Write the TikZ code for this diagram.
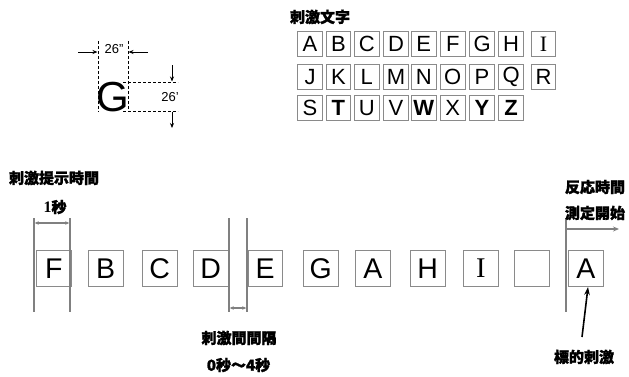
\documentclass[tikz,border=0pt]{standalone}
\usepackage{fontspec}
\setmainfont{Liberation Sans}
\newfontfamily\jp{Noto Sans CJK JP}[BoldFeatures={FakeBold=1.5}]
\newfontfamily\serifface{Liberation Serif}
\usetikzlibrary{arrows.meta}
\definecolor{lgray}{RGB}{128,128,128}
\definecolor{bgray}{RGB}{138,138,138}
\begin{document}
\begin{tikzpicture}[x=1pt,y=-1pt,
 gridbox/.style={draw=bgray,line width=1pt,minimum width=24.5pt,minimum height=25pt,inner sep=0pt,font=\fontsize{22}{22}\selectfont},
 seqbox/.style={draw=bgray,line width=1pt,minimum width=34.5pt,minimum height=36pt,inner sep=0pt,font=\fontsize{28.5}{28.5}\selectfont},
 jlabel/.style={font=\jp\bfseries\fontsize{15}{15}\selectfont,inner sep=0pt},
 tline/.style={draw=lgray,line width=1.4pt},
 garrow/.style={draw=lgray,line width=1.3pt,{Stealth[length=4pt,width=3.5pt]}-{Stealth[length=4pt,width=3.5pt]}},
 rarrow/.style={draw=lgray,line width=1.6pt,-{Stealth[length=6pt,width=5pt]}},
 dimline/.style={line width=0.8pt,dash pattern=on 3pt off 2pt},
 darrow/.style={line width=0.8pt,-{Stealth[length=5pt,width=4pt]}},
 blarrow/.style={line width=1.6pt,-{Stealth[length=8pt,width=5.5pt]}},
]
\useasboundingbox (0,0) rectangle (629,376);

% ---- G size figure ----
\node[inner sep=0pt,font=\fontsize{42}{42}\selectfont] (bigG) at (113,97) {G};
\coordinate (vl1t) at (98,41); \coordinate (vl1b) at (98,112);
\coordinate (vl2t) at (128,41); \coordinate (vl2b) at (128,112);
\draw[dimline] (vl1t) -- (vl1b);
\draw[dimline] (vl2t) -- (vl2b);
\coordinate (hl1l) at (123,82); \coordinate (hl1r) at (178,82);
\coordinate (hl2l) at (123,111); \coordinate (hl2r) at (178,111);
\draw[dimline] (hl1l) -- (hl1r);
\draw[dimline] (hl2l) -- (hl2r);
\coordinate (a1s) at (78,52); \coordinate (a1e) at (97.5,52);
\coordinate (a2s) at (148,52); \coordinate (a2e) at (128.5,52);
\draw[darrow] (a1s) -- (a1e);
\draw[darrow] (a2s) -- (a2e);
\coordinate (a3s) at (172,65); \coordinate (a3e) at (172,81.5);
\coordinate (a4s) at (172,111.5); \coordinate (a4e) at (172,128);
\draw[darrow] (a3s) -- (a3e);
\draw[darrow] (a4s) -- (a4e);
\node[inner sep=0pt,font=\fontsize{13}{13}\selectfont] (w26) at (114,49) {26''};
\node[inner sep=0pt,font=\fontsize{13}{13}\selectfont] (h26) at (170,97) {26'};

% ---- stimulus letters ----
\node[jlabel] (stimtitle) at (320,17) {刺激文字};
\foreach \l/\x in {A/297.3,B/325.7,C/354,D/383.3,E/411,F/440,G/469.3,H/498.3,{\serifface I}/530.7}
  \node[gridbox,anchor=north west] at (\x,31) {\l};
\foreach \l/\x in {J/297.3,K/325.7,L/354,M/383.3,N/411,O/440,P/469.3,Q/498.3,R/530.7}
  \node[gridbox,anchor=north west] (r2\l) at (\x,64) {\l};
\foreach \l/\x/\w in {S/297.3/\mdseries,T/325.7/\bfseries,U/354/\mdseries,V/383.3/\mdseries,W/411/\bfseries,X/440/\mdseries,Y/469.3/\bfseries,Z/498.3/\bfseries}
  \node[gridbox,anchor=north west] (r3\l) at (\x,95) {\w\l};

% ---- sequence ----
\node[jlabel] (dur) at (54,178) {刺激提示時間};
\node[inner sep=0pt] (onesec) at (55,207) {{\serifface\bfseries\fontsize{16}{16}\selectfont 1}{\jp\bfseries\fontsize{15}{15}\selectfont 秒}};
\foreach \n/\l/\x in {t1/F/36,t2/B/88,t3/C/142,t4/D/193,t5/E/247.5,t6/G/303,t7/A/355,t8/H/410,t9/{\serifface I}/463,t10/{}/514,t11/A/568}
  \node[seqbox,anchor=north west] (\n) at (\x,250) {\l};

\coordinate (L1t) at (34,218); \coordinate (L1b) at (34,312);
\coordinate (L2t) at (70,218); \coordinate (L2b) at (70,312);
\coordinate (L3t) at (229,218); \coordinate (L3b) at (229,312);
\coordinate (L4t) at (247,218); \coordinate (L4b) at (247,312);
\coordinate (L5t) at (566,218); \coordinate (L5b) at (566,312);
\foreach \a/\b in {L1t/L1b,L2t/L2b,L3t/L3b,L4t/L4b,L5t/L5b}
  \draw[tline] (\a) -- (\b);

\coordinate (g1l) at (34.7,223); \coordinate (g1r) at (69.3,223);
\draw[garrow] (g1l) -- (g1r);
\coordinate (g2l) at (229.7,308); \coordinate (g2r) at (246.3,308);
\draw[garrow] (g2l) -- (g2r);
\coordinate (rts) at (566,229); \coordinate (rte) at (619,229);
\draw[rarrow] (rts) -- (rte);

\node[jlabel] (rt1) at (595,187) {反応時間};
\node[jlabel] (rt2) at (595,213) {測定開始};
\node[jlabel] (isi) at (239,338) {刺激間間隔};
\node[inner sep=0pt,font=\jp\bfseries\fontsize{15}{15}\selectfont] (isir) at (238.5,365) {0秒～4秒};
\node[jlabel] (target) at (584,357) {標的刺激};
\coordinate (tgs) at (582,337);
\draw[blarrow] (tgs) -- (t11.south -| 588,0);
\end{tikzpicture}
\end{document}
